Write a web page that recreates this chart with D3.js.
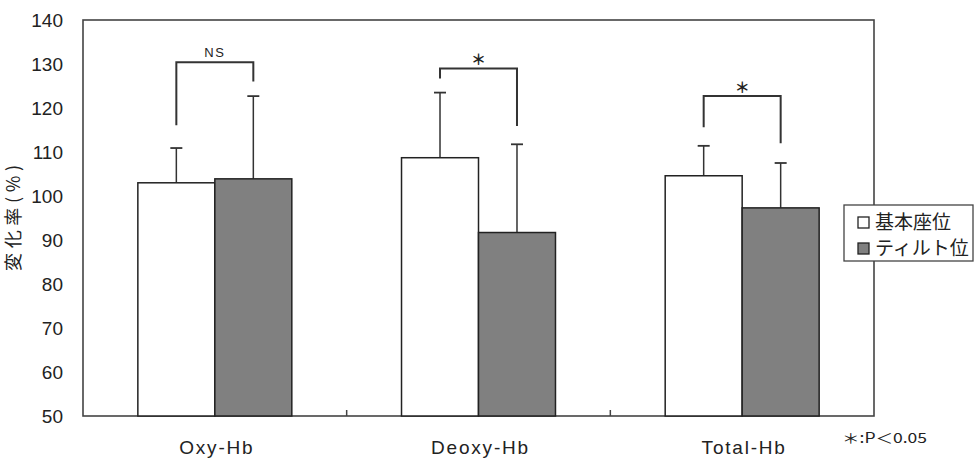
<!DOCTYPE html>
<html>
<head>
<meta charset="utf-8">
<script src="https://cdn.jsdelivr.net/npm/d3@7"></script>
<style>
  html, body { margin: 0; padding: 0; background: #fff; }
  svg { display: block; }
</style>
</head>
<body>
<svg id="chart" width="975" height="462"></svg>
<script>
// ---- data ----
const categories = ["Oxy-Hb", "Deoxy-Hb", "Total-Hb"];
const seriesNames = ["基本座位", "ティルト位"];
const basalMean = [103.0, 108.7, 104.6];
const basalSD = [7.9, 14.8, 6.8];
const tiltMean = [103.9, 91.7, 97.3];
const tiltSD = [18.8, 20.05, 10.2];
const sigLabels = ["NS", "*", "*"];
const bracketTop = [130.4, 129.0, 122.7];
const bracketLeftEnd = [116.1, 126.7, 115.6];
const bracketRightEnd = [126.0, 115.9, 112.0];
const yTicks = [50, 60, 70, 80, 90, 100, 110, 120, 130, 140];
const yTitle = "変化率(%)";
const noteText = "＊:P＜0.05";

// ---- layout ----
const svg = d3.select("#chart");
const mLeft = 83, mRight = 874, mTop = 20, mBottom = 416;
const seriesFill = ["#ffffff", "#808080"];
const lineCol = "#333333";
const latin = "'Liberation Sans', Arial, sans-serif";
const cjk = "'Noto Sans CJK JP', 'Liberation Sans', sans-serif";

const y = d3.scaleLinear().domain([50, 140]).range([mBottom, mTop]);
const x0 = d3.scaleBand().domain(categories).range([mLeft, mRight]).padding(0);
const x1 = d3.scaleBand().domain(seriesNames).range([0, x0.bandwidth()])
  .paddingInner(0).paddingOuter(0.7125);

const rows = categories.map((c, i) => ({
  cat: c, i,
  vals: [
    { s: seriesNames[0], m: basalMean[i], sd: basalSD[i], k: 0 },
    { s: seriesNames[1], m: tiltMean[i], sd: tiltSD[i], k: 1 }
  ]
}));

// frame
svg.append("rect")
  .attr("x", mLeft).attr("y", mTop)
  .attr("width", mRight - mLeft).attr("height", mBottom - mTop)
  .attr("fill", "none").attr("stroke", "#444").attr("stroke-width", 1.6);

// bars
const g = svg.append("g");
const groups = g.selectAll("g.cat").data(rows).join("g")
  .attr("transform", d => `translate(${x0(d.cat)},0)`);

// error bars (upward only) drawn before bars
groups.selectAll("g.err").data(d => d.vals).join("g").each(function(d) {
  const cx = x1(d.s) + x1.bandwidth() / 2;
  const gg = d3.select(this);
  gg.append("line").attr("x1", cx).attr("x2", cx)
    .attr("y1", y(d.m)).attr("y2", y(d.m + d.sd))
    .attr("stroke", lineCol).attr("stroke-width", 1.5);
  gg.append("line").attr("x1", cx - 6).attr("x2", cx + 6)
    .attr("y1", y(d.m + d.sd)).attr("y2", y(d.m + d.sd))
    .attr("stroke", lineCol).attr("stroke-width", 1.8);
});

groups.selectAll("rect.bar").data(d => d.vals).join("rect")
  .attr("class", "bar")
  .attr("x", d => x1(d.s))
  .attr("y", d => y(d.m))
  .attr("width", x1.bandwidth())
  .attr("height", d => y(50) - y(d.m))
  .attr("fill", d => seriesFill[d.k])
  .attr("stroke", "#222").attr("stroke-width", 1.5);

// significance brackets
rows.forEach((r, i) => {
  const xl = x0(r.cat) + x1(seriesNames[0]) + x1.bandwidth() / 2;
  const xr = x0(r.cat) + x1(seriesNames[1]) + x1.bandwidth() / 2;
  const path = d3.path();
  path.moveTo(xl, y(bracketLeftEnd[i]));
  path.lineTo(xl, y(bracketTop[i]));
  path.lineTo(xr, y(bracketTop[i]));
  path.lineTo(xr, y(bracketRightEnd[i]));
  svg.append("path").attr("d", path.toString())
    .attr("fill", "none").attr("stroke", lineCol).attr("stroke-width", 2);
  const isNS = sigLabels[i] === "NS";
  svg.append("text")
    .attr("x", (xl + xr) / 2)
    .attr("y", y(bracketTop[i]) - 10)
    .attr("dominant-baseline", "central")
    .attr("text-anchor", "middle")
    .attr("font-family", isNS ? latin : cjk)
    .attr("font-size", isNS ? 13 : 15)
    .attr("font-weight", isNS ? "normal" : "bold")
    .attr("letter-spacing", isNS ? 1.5 : 0)
    .attr("fill", "#222")
    .text(isNS ? sigLabels[i] : "＊");
});

// bottom axis ticks (inward) at category boundaries
const bounds = categories.slice(1).map(c => x0(c));
svg.selectAll("line.xt").data(bounds).join("line")
  .attr("x1", d => d).attr("x2", d => d)
  .attr("y1", mBottom).attr("y2", mBottom - 6)
  .attr("stroke", "#444").attr("stroke-width", 1.5);

// category labels
svg.selectAll("text.cat").data(categories).join("text")
  .attr("x", d => x0(d) + x0.bandwidth() / 2 + 2)
  .attr("y", 454)
  .attr("text-anchor", "middle")
  .attr("font-family", latin)
  .attr("font-size", 19)
  .attr("letter-spacing", 1.8)
  .attr("fill", "#222")
  .text(d => d);

// y tick labels
const yAxis = d3.axisLeft(y).tickValues(yTicks).tickSize(0).tickPadding(20);
const ya = svg.append("g").attr("transform", `translate(${mLeft},0)`).call(yAxis);
ya.select(".domain").remove();
ya.selectAll("text")
  .attr("font-family", latin).attr("font-size", 19).attr("fill", "#222")
  .attr("dy", "0.35em");

// y title
svg.append("text")
  .attr("transform", `translate(12,218) rotate(-90)`)
  .attr("text-anchor", "middle")
  .attr("dominant-baseline", "central")
  .attr("font-family", cjk)
  .attr("font-size", 18)
  .attr("fill", "#222")
  .attr("textLength", 106)
  .attr("lengthAdjust", "spacing")
  .text(yTitle);

// legend
const lg = svg.append("g");
lg.append("rect").attr("x", 844).attr("y", 205).attr("width", 129).attr("height", 56)
  .attr("fill", "#fff").attr("stroke", "#444").attr("stroke-width", 1.3);
seriesNames.forEach((s, k) => {
  const yy = 222 + k * 26;
  lg.append("rect").attr("x", 858).attr("y", yy - 5).attr("width", 11).attr("height", 11)
    .attr("fill", seriesFill[k]).attr("stroke", "#222").attr("stroke-width", 1.3);
  lg.append("text").attr("x", 875).attr("y", yy + 7)
    .attr("font-family", cjk).attr("font-size", 19).attr("fill", "#222")
    .text(s);
});

// note
svg.append("text")
  .attr("x", 842).attr("y", 443)
  .attr("font-family", cjk).attr("font-size", 14).attr("fill", "#222")
  .attr("textLength", 85).attr("lengthAdjust", "spacingAndGlyphs")
  .text(noteText);
</script>
</body>
</html>
